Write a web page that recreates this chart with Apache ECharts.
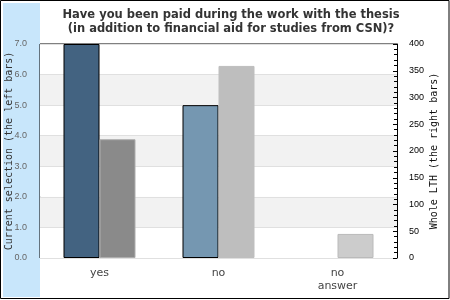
<!DOCTYPE html>
<html>
<head>
<meta charset="utf-8">
<script src="https://cdn.jsdelivr.net/npm/echarts@6/dist/echarts.min.js"></script>
<style>html,body{margin:0;padding:0;background:#fff}#c{width:450px;height:300px}</style>
</head>
<body>
<div id="c"></div>
<script>
var categories = ['yes', 'no', 'no\nanswer'];
var currentSelection = [7.0, 5.0, 0];
var wholeLTH = [222, 359, 45];
var leftColors = ['#436381', '#7597b1', '#7597b1'];
var rightColors = ['#8a8a8a', '#bebebe', '#cccccc'];
var rightBorders = ['#adadad', '#bebebe', '#bababa'];
var titleText = 'Have you been paid during the work with the thesis\n(in addition to financial aid for studies from CSN)?';

var chart = echarts.init(document.getElementById('c'), null, {renderer: 'canvas'});
chart.setOption({
  animation: false,
  backgroundColor: '#fff',
  graphic: [
    {type: 'rect', z: -10, shape: {x: 3, y: 3, width: 37, height: 294}, style: {fill: '#c8e6fb'}},
    {type: 'rect', z: 100, shape: {x: 0.5, y: 0.5, width: 448.5, height: 298}, style: {fill: 'none', stroke: '#000', lineWidth: 1}}
  ],
  title: {
    text: titleText,
    left: 226, top: 3, textAlign: 'center',
    textStyle: {fontFamily: 'DejaVu Sans', fontWeight: 'bold', fontSize: 11.5, color: '#333', lineHeight: 14}
  },
  grid: {left: 40, right: 53, top: 44, bottom: 42, outerBoundsMode: 'none', containLabel: false, show: true, borderColor: '#000', borderWidth: 1, backgroundColor: 'transparent'},
  xAxis: {
    type: 'category', data: categories,
    axisLine: {show: false}, axisTick: {show: false},
    axisLabel: {fontFamily: 'DejaVu Sans', fontSize: 11, color: '#444', margin: 9, lineHeight: 13}
  },
  yAxis: [
    {
      type: 'value', min: 0, max: 7, interval: 1, position: 'left',
      name: 'Current selection (the left bars)', nameLocation: 'middle', nameRotate: 90, nameGap: 26,
      nameMoveOverlap: false,
      nameTextStyle: {fontFamily: 'DejaVu Sans Mono', fontSize: 10, color: '#333'},
      axisLine: {show: false}, axisTick: {show: false},
      axisLabel: {fontFamily: 'Liberation Sans', fontSize: 9, color: '#666', margin: 13, formatter: function (v) { return v.toFixed(1); }},
      splitLine: {show: true, lineStyle: {color: '#e0e0e0', width: 1}},
      splitArea: {show: true, areaStyle: {color: ['#ffffff', '#f2f2f2']}}
    },
    {
      type: 'value', min: 0, max: 400, interval: 50, position: 'right',
      name: 'Whole LTH (the right bars)', nameLocation: 'middle', nameRotate: 90, nameGap: 32,
      nameMoveOverlap: false,
      nameTextStyle: {fontFamily: 'DejaVu Sans Mono', fontSize: 10, color: '#111'},
      axisLine: {show: true, lineStyle: {color: '#000'}},
      axisTick: {show: true, inside: true, length: 4, lineStyle: {color: '#000'}},
      minorTick: {show: true, splitNumber: 5, length: 3, lineStyle: {color: '#000'}},
      axisLabel: {fontFamily: 'Liberation Sans', fontSize: 9, color: '#000', margin: 12},
      splitLine: {show: false}
    }
  ],
  series: [
    {
      type: 'bar', yAxisIndex: 0, barWidth: 36, barGap: '0%',
      data: currentSelection.map(function (v, i) {
        return {value: v, itemStyle: {color: leftColors[i], borderColor: '#000', borderWidth: v > 0 ? 1 : 0}};
      })
    },
    {
      type: 'bar', yAxisIndex: 1, barWidth: 36, barGap: '0%',
      data: wholeLTH.map(function (v, i) {
        return {value: v, itemStyle: {color: rightColors[i], borderColor: rightBorders[i], borderWidth: 1}};
      })
    }
  ]
});
</script>
</body>
</html>
